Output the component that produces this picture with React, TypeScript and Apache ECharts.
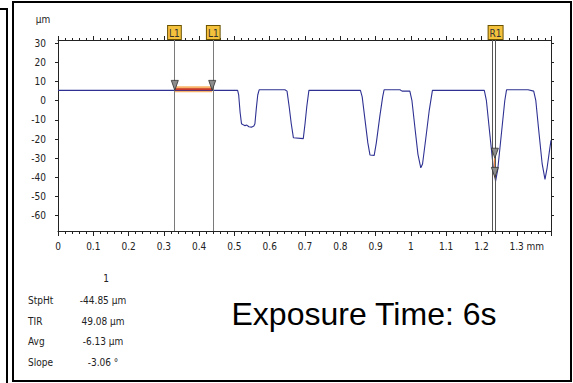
import React, { useEffect, useRef } from 'react';
import * as echarts from 'echarts';

// ---- data ----
const profileX = [
  0, 0.509, 0.512, 0.516, 0.52, 0.525, 0.53, 0.535, 0.541, 0.548, 0.555, 0.558, 0.562, 0.566, 0.57,
  0.643, 0.649, 0.655, 0.661, 0.667, 0.695, 0.7, 0.705, 0.711,
  0.857, 0.862, 0.87, 0.878, 0.884, 0.896, 0.902, 0.912, 0.92, 0.924,
  0.969, 0.975, 0.997, 1.003, 1.012, 1.02, 1.028, 1.033, 1.042, 1.052, 1.061,
  1.208, 1.214, 1.224, 1.234, 1.24, 1.246, 1.256, 1.266, 1.271,
  1.332, 1.348, 1.354, 1.362, 1.372, 1.38, 1.386, 1.392, 1.397,
];
const profileY = [
  5.4, 5.4, 3, -6, -12.0, -12.6, -13.0, -12.7, -13.6, -13.8, -13.2, -12, -4, 3, 5.7,
  5.7, 5.0, -3, -12, -19.3, -19.8, -12, -3, 5.4,
  5.4, 2, -10, -22, -28.3, -28.5, -22, -8, 2, 5.7,
  5.7, 5.0, 5.0, 0, -15, -28, -35.0, -33, -20, -5, 5.4,
  5.4, 0, -18, -36, -42, -36, -18, 0, 5.7,
  5.7, 5.0, 0, -15, -33, -41.1, -35, -27, -20.7,
];

const xTickLabels = ['0', '0.1', '0.2', '0.3', '0.4', '0.5', '0.6', '0.7', '0.8', '0.9', '1', '1.1', '1.2', '1.3 mm'];
const yTickValues = [30, 20, 10, 0, -10, -20, -30, -40, -50, -60];
const xRange = [0, 1.397];
const yRange = [-68, 31.7];

const cursorL1 = [0.331, 0.437];
const cursorR1 = [1.234, 1.242];
const cursorNames = ['L1', 'R1'];
const l1Level = 5.4;
const l1BandLevel = 6.0;
const r1Levels = [-30, -40];

const statHeader = '1';
const statNames = ['StpHt', 'TIR', 'Avg', 'Slope'];
const statValues = ['-44.85 µm', '49.08 µm', '-6.13 µm', '-3.06 °'];
const unitLabel = 'µm';
const caption = 'Exposure Time: 6s';

const FONT = '"Liberation Sans Narrow", "Arial Narrow", "DejaVu Sans Condensed", "Liberation Sans", sans-serif';
const AX = '#222';

export default function App() {
  const ref = useRef<HTMLDivElement>(null);
  useEffect(() => {
    const chart = echarts.init(ref.current!, null, { renderer: 'svg' });
    const profile = profileX.map((x, i) => [x, profileY[i]]);
    const r1Mid = (cursorR1[0] + cursorR1[1]) / 2;

    const xFormatter = (v: number) => {
      const i = Math.round(v * 10);
      if (Math.abs(v - i / 10) > 1e-6 || i < 0 || i >= xTickLabels.length) return '';
      const s = xTickLabels[i];
      return s.indexOf(' ') >= 0 ? '{u|' + s + '}' : s;
    };

    const statsGraphics: any[] = [
      { type: 'text', x: 106, y: 278, style: { text: statHeader, fontSize: 10, fontFamily: FONT, fill: '#222', align: 'center', verticalAlign: 'middle' } },
    ];
    const statYs = [300, 321, 341, 362];
    statNames.forEach((n, i) => {
      statsGraphics.push({ type: 'text', x: 28, y: statYs[i], style: { text: n, fontSize: 10, fontFamily: FONT, fill: '#222', align: 'left', verticalAlign: 'middle' } });
      statsGraphics.push({ type: 'text', x: 103, y: statYs[i], style: { text: statValues[i], fontSize: 10, fontFamily: FONT, fill: '#222', align: 'center', verticalAlign: 'middle' } });
    });

    chart.setOption({
      animation: false,
      backgroundColor: '#fff',
      grid: { left: 58, top: 40, right: 22, bottom: 152 },
      xAxis: [
        {
          type: 'value', min: xRange[0], max: xRange[1], interval: 0.1, position: 'bottom',
          axisLine: { show: true, onZero: false, lineStyle: { color: AX, width: 1 } },
          axisTick: { show: true, length: 5, lineStyle: { color: AX } },
          minorTick: { show: true, splitNumber: 5, length: 3, lineStyle: { color: AX } },
          splitLine: { show: false }, minorSplitLine: { show: false },
          axisLabel: {
            formatter: xFormatter, margin: 10, fontSize: 10, color: AX, fontFamily: FONT, showMaxLabel: false,
            rich: { u: { padding: [0, 0, 0, 20], fontSize: 10, color: AX, fontFamily: FONT } },
          },
        },
        {
          type: 'value', min: xRange[0], max: xRange[1], interval: 0.1, position: 'top',
          axisLine: { show: true, onZero: false, lineStyle: { color: AX, width: 1 } },
          axisTick: { show: true, length: 4, lineStyle: { color: AX } },
          minorTick: { show: true, splitNumber: 5, length: 2, lineStyle: { color: AX } },
          splitLine: { show: false }, axisLabel: { show: false },
        },
      ],
      yAxis: [
        {
          type: 'value', min: yRange[0], max: yRange[1], position: 'left',
          axisLine: { show: true, onZero: false, lineStyle: { color: AX, width: 1 } },
          axisTick: { show: true, length: 3, customValues: yTickValues, lineStyle: { color: AX } },
          axisLabel: { customValues: yTickValues, formatter: (v: number) => String(v), margin: 12, fontSize: 10, color: AX, fontFamily: FONT },
          splitLine: { show: false },
        },
        {
          type: 'value', min: yRange[0], max: yRange[1], position: 'right',
          axisLine: { show: true, onZero: false, lineStyle: { color: AX, width: 1 } },
          axisTick: { show: true, length: 3, customValues: yTickValues, lineStyle: { color: AX } },
          axisLabel: { show: false }, splitLine: { show: false },
        },
      ],
      series: [
        {
          type: 'line', data: [[cursorL1[0], l1BandLevel], [cursorL1[1], l1BandLevel]],
          symbol: 'none', lineStyle: { color: '#f7b46a', width: 6 }, z: 1, silent: true,
        },
        {
          type: 'line', data: profile, symbol: 'none', showSymbol: false,
          lineStyle: { color: '#2e3192', width: 1.1 }, z: 2, silent: true,
          markLine: {
            silent: true, symbol: ['none', 'none'], animation: false,
            lineStyle: { color: '#7a7a7a', width: 1, type: 'solid' },
            label: {
              position: 'end', distance: 1, backgroundColor: '#f4c13d', borderColor: '#6b5200', borderWidth: 1,
              padding: [1, 1, 0, 1], color: '#333', fontSize: 10, fontFamily: FONT, lineHeight: 12,
            },
            emphasis: { disabled: true },
            data: [
              { xAxis: cursorL1[0], label: { show: true, formatter: cursorNames[0] } },
              { xAxis: cursorL1[1], label: { show: true, formatter: cursorNames[0] } },
              { xAxis: cursorR1[0], label: { show: false }, lineStyle: { color: '#555' } },
              { xAxis: cursorR1[1], label: { show: false }, lineStyle: { color: '#555' } },
              { xAxis: r1Mid, label: { show: true, formatter: cursorNames[1] }, lineStyle: { color: 'rgba(255,255,255,0)', width: 0.01 } },
            ],
          },
          markPoint: {
            silent: true, animation: false,
            symbol: 'path://M0,0L10,0L5,12Z', symbolSize: [7, 10], symbolOffset: [0, -5],
            itemStyle: { color: '#8c8c8c', borderColor: '#333', borderWidth: 0.8 },
            label: { show: false },
            data: [
              { coord: [cursorL1[0], l1Level] },
              { coord: [cursorL1[1], l1Level] },
              { coord: [r1Mid, r1Levels[0]] },
              { coord: [r1Mid, r1Levels[1]] },
            ],
          },
        },
        {
          type: 'line', data: [[cursorL1[0], l1BandLevel], [cursorL1[1], l1BandLevel]],
          symbol: 'none', lineStyle: { color: '#c8372d', width: 2.2 }, z: 3, silent: true,
        },
        {
          type: 'line', data: [[r1Mid, r1Levels[0]], [r1Mid, r1Levels[1]]],
          symbol: 'none', lineStyle: { color: '#e8894a', width: 2 }, z: 3, silent: true,
        },
      ],
      graphic: [
        { type: 'rect', shape: { x: 13, y: 2, width: 558, height: 379 }, style: { fill: 'none', stroke: '#000', lineWidth: 2 }, silent: true },
        { type: 'polyline', shape: { points: [[0, 9], [7, 9], [7, 383]] }, style: { fill: 'none', stroke: '#000', lineWidth: 2 }, silent: true },
        { type: 'text', x: 43, y: 19, style: { text: unitLabel, fontSize: 10, fontFamily: FONT, fill: '#222', align: 'center', verticalAlign: 'middle' } },
        ...statsGraphics,
        { type: 'text', x: 364, y: 314, style: { text: caption, fontSize: 32, fontFamily: '"Liberation Sans", Arial, sans-serif', fill: '#000', align: 'center', verticalAlign: 'middle' } },
      ],
    });
    return () => chart.dispose();
  }, []);
  return <div ref={ref} style={{ position: 'fixed', left: 0, top: 0, width: 573, height: 383, background: '#fff' }} />;
}
